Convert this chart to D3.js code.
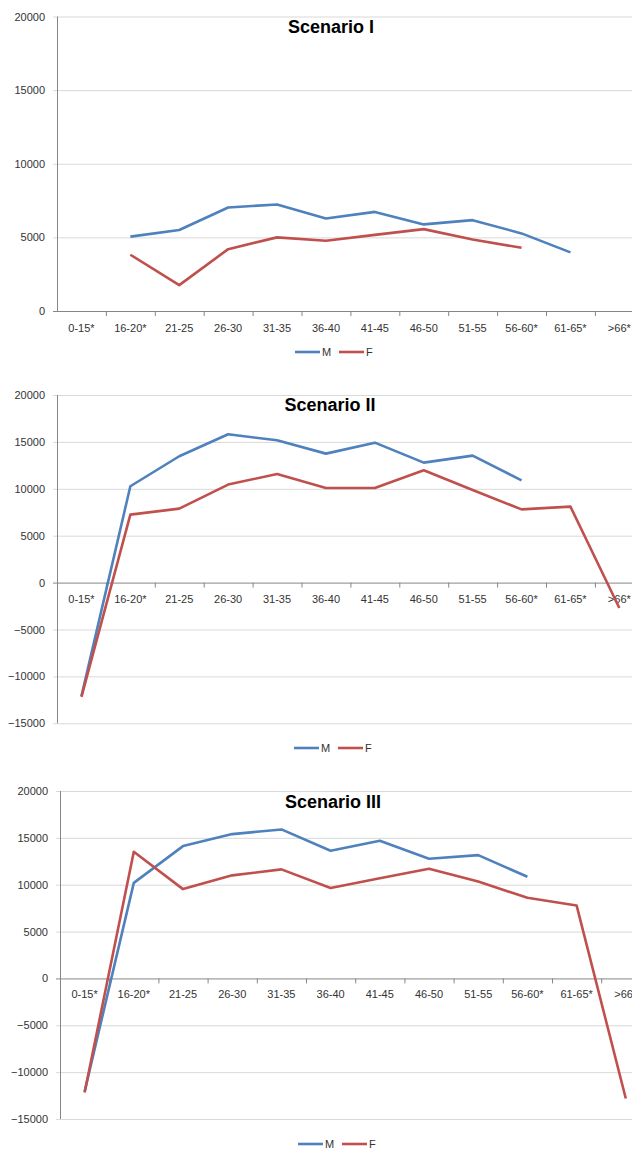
<!DOCTYPE html>
<html lang="en">
<head>
  <meta charset="UTF-8">
  <title>Scenarios by age group</title>
  <style>
    * { margin: 0; padding: 0; }
    body { background: #fff; width: 632px; height: 1149px; overflow: hidden; }
    svg { display: block; font-family: "Liberation Sans", Arial, sans-serif; }
  </style>
  <script src="https://cdnjs.cloudflare.com/ajax/libs/d3/7.8.5/d3.min.js"></script>
</head>
<body>
  <svg id="chart" width="632" height="1149"></svg>
  <script>
    // age groups on the x axis
    const categories = ['0-15*', '16-20*', '21-25', '26-30', '31-35', '36-40',
      '41-45', '46-50', '51-55', '56-60*', '61-65*', '>66*'];

    // values (null = no point)
    const scenario1M = [null, 5050, 5500, 7030, 7230, 6280, 6730, 5880, 6170, 5270, 3980, null];
    const scenario1F = [null, 3820, 1760, 4200, 5000, 4770, 5170, 5560, 4860, 4290, null, null];
    const scenario2M = [-12100, 10270, 13470, 15810, 15170, 13750, 14920, 12790, 13540, 10900, null, null];
    const scenario2F = [-12190, 7250, 7890, 10450, 11580, 10080, 10080, 11970, 9870, 7810, 8100, -2710];
    const scenario3M = [-12100, 10200, 14120, 15400, 15900, 13620, 14690, 12770, 13160, 10850, null, null];
    const scenario3F = [-12170, 13520, 9530, 11000, 11640, 9640, 10680, 11700, 10350, 8600, 7790, -12810];

    const ticks1 = [0, 5000, 10000, 15000, 20000];
    const ticks23 = [-15000, -10000, -5000, 0, 5000, 10000, 15000, 20000];

    const seriesNames = ['M', 'F'];
    const colors = { M: '#4F81BD', F: '#C0504D' };

    const svg = d3.select('#chart');

    function drawChart(cfg) {
      const g = svg.append('g');

      const x = d3.scaleBand()
        .domain(categories)
        .range([cfg.left, cfg.left + categories.length * cfg.step]);

      const y = d3.scaleLinear()
        .domain(d3.extent(cfg.ticks))
        .range([cfg.bottom, cfg.top]);

      // gridlines
      g.selectAll('.grid')
        .data(cfg.ticks.filter(t => t !== 0))
        .enter()
        .append('line')
        .attr('x1', cfg.left - 4)
        .attr('x2', 632)
        .attr('y1', d => y(d) + 0.5)
        .attr('y2', d => y(d) + 0.5)
        .attr('stroke', '#d9d9d9')
        .attr('stroke-width', 1);

      // y axis labels
      const yAxis = d3.axisLeft(y).tickValues(cfg.ticks).tickSize(0).tickPadding(12).tickFormat(d3.format('d'));
      const ya = g.append('g').attr('transform', `translate(${cfg.left},0)`).call(yAxis);
      ya.select('.domain').remove();
      ya.selectAll('text')
        .attr('fill', '#333')
        .style('font-size', '11px')
        .style('font-family', '"Liberation Sans", Arial, sans-serif');

      // vertical axis line
      g.append('line')
        .attr('x1', cfg.left + 0.5).attr('x2', cfg.left + 0.5)
        .attr('y1', cfg.top).attr('y2', cfg.bottom)
        .attr('stroke', '#868686');

      // horizontal axis at zero
      g.append('line')
        .attr('x1', cfg.left - 4).attr('x2', 632)
        .attr('y1', y(0) + 0.5).attr('y2', y(0) + 0.5)
        .attr('stroke', '#868686');

      // category boundary tick marks
      g.selectAll('.xtick')
        .data(categories.slice(1))
        .enter()
        .append('line')
        .attr('x1', d => x(d) + 0.5)
        .attr('x2', d => x(d) + 0.5)
        .attr('y1', y(0))
        .attr('y2', y(0) + 5)
        .attr('stroke', '#868686');

      // category labels
      g.selectAll('.xlabel')
        .data(categories)
        .enter()
        .append('text')
        .attr('x', d => x(d) + x.bandwidth() / 2)
        .attr('y', cfg.labelY)
        .attr('text-anchor', 'middle')
        .attr('fill', '#333')
        .style('font-size', '11px')
        .text(d => d);

      // lines
      const line = d3.line()
        .defined(d => d.v !== null)
        .x(d => x(d.c) + x.bandwidth() / 2)
        .y(d => y(d.v));

      cfg.series.forEach((vals, i) => {
        const pts = categories.map((c, j) => ({ c: c, v: vals[j] }));
        g.append('path')
          .datum(pts)
          .attr('d', line)
          .attr('fill', 'none')
          .attr('stroke', colors[seriesNames[i]])
          .attr('stroke-width', 2.6)
          .attr('stroke-linejoin', 'round');
      });

      // title
      g.append('text')
        .attr('x', cfg.titleX)
        .attr('y', cfg.titleY)
        .attr('text-anchor', 'middle')
        .attr('fill', '#000')
        .style('font-size', '18px')
        .style('font-weight', 'bold')
        .text(cfg.title);

      // legend
      const lg = g.append('g').attr('transform', `translate(${cfg.legendX},${cfg.legendY})`);
      seriesNames.forEach((name, i) => {
        const ox = i * 44;
        lg.append('line')
          .attr('x1', ox).attr('x2', ox + 25)
          .attr('y1', 0).attr('y2', 0)
          .attr('stroke', colors[name])
          .attr('stroke-width', 2.6);
        lg.append('text')
          .attr('x', ox + 27)
          .attr('y', 4)
          .attr('fill', '#333')
          .style('font-size', '11px')
          .text(name);
      });
    }

    drawChart({
      title: 'Scenario I', titleX: 331, titleY: 33,
      left: 57, step: 48.9, top: 16.5, bottom: 311, ticks: ticks1,
      labelY: 332, legendX: 295, legendY: 352,
      series: [scenario1M, scenario1F]
    });

    drawChart({
      title: 'Scenario II', titleX: 330, titleY: 411,
      left: 57, step: 48.9, top: 395, bottom: 723.3, ticks: ticks23,
      labelY: 603, legendX: 294, legendY: 748,
      series: [scenario2M, scenario2F]
    });

    drawChart({
      title: 'Scenario III', titleX: 333, titleY: 808,
      left: 60, step: 49.2, top: 791, bottom: 1119, ticks: ticks23,
      labelY: 998, legendX: 298, legendY: 1144,
      series: [scenario3M, scenario3F]
    });
  </script>
</body>
</html>
